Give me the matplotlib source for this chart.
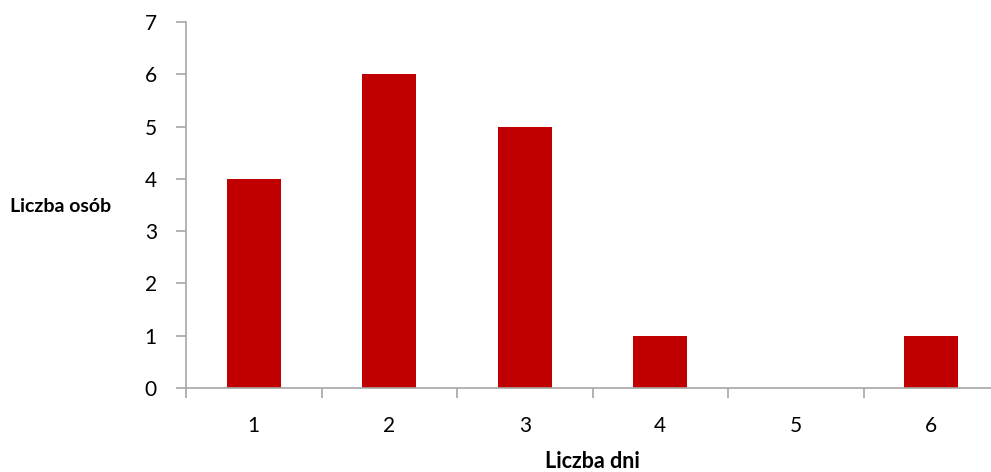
import matplotlib
matplotlib.use("Agg")
import matplotlib.pyplot as plt
import numpy as np

categories = ["1", "2", "3", "4", "5", "6"]
counts = [4, 6, 5, 1, 0, 1]
y_ticks = [0, 1, 2, 3, 4, 5, 6, 7]

plt.rcParams["font.family"] = ["Lato", "DejaVu Sans"]

fig = plt.figure(figsize=(9.91, 4.72), dpi=100)
ax = fig.add_axes([186 / 991, 1 - 388 / 472, 813 / 991, 366 / 472])

x = np.arange(len(categories))
ax.bar(x, counts, width=0.4, color="#C00000", zorder=2)

ax.set_xlim(-0.5, len(categories) - 0.5)
ax.set_ylim(0, 7)
ax.set_yticks(y_ticks)
ax.set_xticks(x)
ax.set_xticklabels(categories)
ax.set_xticks(np.arange(-0.5, len(categories), 1.0), minor=True)

axis_color = "#A6A6A6"
for side in ["top", "right"]:
    ax.spines[side].set_visible(False)
for side in ["left", "bottom"]:
    ax.spines[side].set_color(axis_color)
    ax.spines[side].set_linewidth(1.2)

ax.tick_params(axis="y", which="major", length=7, width=1.2, color=axis_color,
               labelsize=15, pad=14, labelcolor="#000000")
ax.tick_params(axis="x", which="major", length=0, labelsize=15, pad=20)
ax.tick_params(axis="x", which="minor", length=7, width=1.2, color=axis_color)

fig.text(10 / 991, 1 - 207 / 472, "Liczba osób", fontsize=14, fontweight="bold",
         ha="left", va="center")
fig.text(592 / 991, 1 - 462 / 472, "Liczba dni", fontsize=15.5, fontweight="bold",
         ha="center", va="center")

fig.savefig("out.png", dpi=100)
